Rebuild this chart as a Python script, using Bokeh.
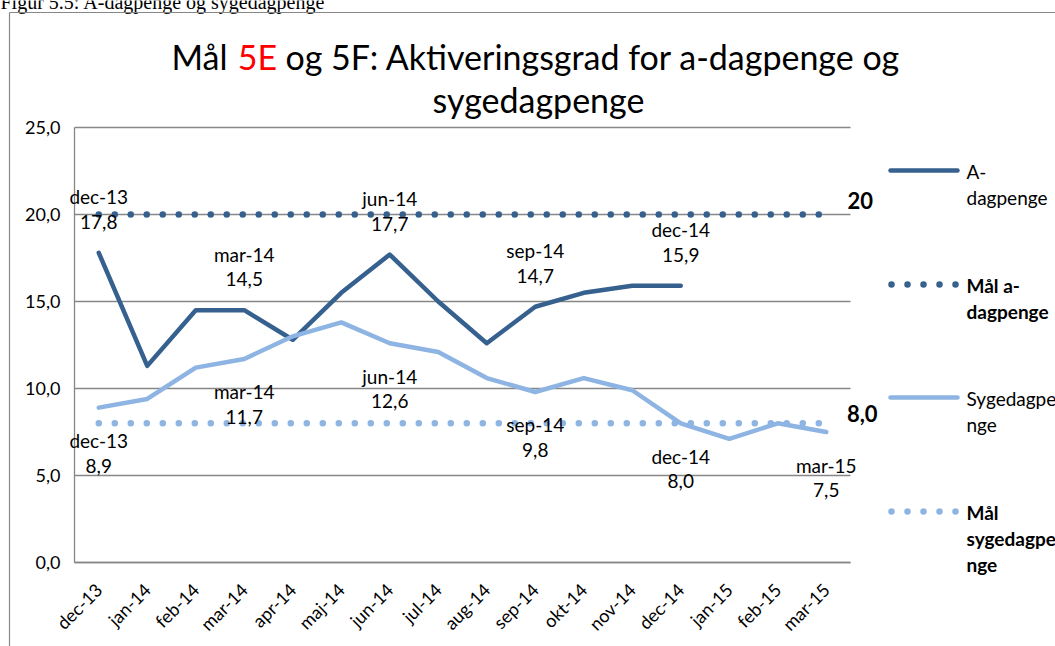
import math
from bokeh.plotting import figure
from bokeh.models import (ColumnDataSource, Range1d, LabelSet, Label, Arrow, FixedTicker, Grid)
from bokeh.core.properties import value
from bokeh.embed import file_html
from bokeh.resources import INLINE

# ---------------- data ----------------
months = ["dec-13", "jan-14", "feb-14", "mar-14", "apr-14", "maj-14", "jun-14", "jul-14",
          "aug-14", "sep-14", "okt-14", "nov-14", "dec-14", "jan-15", "feb-15", "mar-15"]
a_dagpenge = [17.8, 11.3, 14.5, 14.5, 12.8, 15.5, 17.7, 15.0, 12.6, 14.7, 15.5, 15.9, 15.9]
sygedagpenge = [8.9, 9.4, 11.2, 11.7, 13.0, 13.8, 12.6, 12.1, 10.6, 9.8, 10.6, 9.9, 8.0, 7.1, 8.0, 7.5]
maal_a = [20, 20, 20, 20, 20, 20, 20, 20, 20, 20, 20, 20, 20, 20, 20, 20]
maal_syge = [8.0, 8.0, 8.0, 8.0, 8.0, 8.0, 8.0, 8.0, 8.0, 8.0, 8.0, 8.0, 8.0, 8.0, 8.0, 8.0]
a_label_months = ["dec-13", "mar-14", "jun-14", "sep-14", "dec-14"]
syge_label_months = ["dec-13", "mar-14", "jun-14", "sep-14", "dec-14", "mar-15"]
y_ticks = [0, 5, 10, 15, 20, 25]
y_tick_labels = ["0,0", "5,0", "10,0", "15,0", "20,0", "25,0"]
maal_a_label = "20"
maal_syge_label = "8,0"
title_parts = ["Mål", "5E", "og 5F: Aktiveringsgrad for a-dagpenge og", "sygedagpenge"]
caption = "Figur 5.5: A-dagpenge og sygedagpenge"
legend_names = [["A-", "dagpenge"], ["Mål a-", "dagpenge"], ["Sygedagpe", "nge"],
                ["Mål", "sygedagpe", "nge"]]

# ---------------- style / geometry ----------------
DARK = "#36618F"
LIGHT = "#8DB4E2"
GRID = "#878787"
FONT = "Lato"
TXT = "black"
W, H = 1055, 646
FL, FR, FT, FB = 74, 850, 127, 562      # plot area in page px
N = len(months)
XSTEP = (FR - FL) / N
YSCALE = (FB - FT) / 25.0


def dx(px):
    return (px - FL) / XSTEP - 0.5


def dy(py):
    return (FB - py) / YSCALE


def fmt(v):
    return ("%.1f" % v).replace(".", ",")


xs = list(range(N))

p = figure(width=W, height=H, x_range=Range1d(dx(0), dx(W)), y_range=Range1d(dy(H), dy(0)),
           output_backend="svg", toolbar_location=None, min_border=0)
p.outline_line_color = None
p.background_fill_color = "white"
p.border_fill_color = "white"

# axes (drawn inside the canvas at fixed locations)
p.xgrid.visible = False
xa, ya = p.xaxis[0], p.yaxis[0]
xa.fixed_location = 0
ya.fixed_location = -0.5
xa.bounds = (-0.5, N - 0.5)
ya.bounds = (0, 25)
xa.ticker = FixedTicker(ticks=xs)
xa.major_label_overrides = {i: m for i, m in zip(xs, months)}
ya.ticker = FixedTicker(ticks=y_ticks)
ya.major_label_overrides = {t: l for t, l in zip(y_ticks, y_tick_labels)}
for ax in (xa, ya):
    ax.axis_line_color = GRID
    ax.axis_line_width = 1.3
    ax.major_tick_line_color = None
    ax.minor_tick_line_color = None
    ax.major_tick_out = 0
    ax.major_tick_in = 0
    ax.major_label_text_font = FONT
    ax.major_label_text_color = TXT
ya.major_label_text_font_size = "18px"
ya.major_label_standoff = 14
xa.major_label_text_font_size = "18px"
xa.major_label_orientation = math.pi / 4
xa.major_label_standoff = 24

yg = p.ygrid[0]
yg.ticker = FixedTicker(ticks=y_ticks)
yg.grid_line_color = GRID
yg.grid_line_width = 1.3
if "cross_bounds" in Grid.properties():
    yg.cross_bounds = (-0.5, N - 0.5)
else:
    yg.visible = False
    p.segment(x0=[-0.5] * len(y_ticks), x1=[N - 0.5] * len(y_ticks), y0=y_ticks, y1=y_ticks,
              line_color=GRID, line_width=1.3)

# series
p.line(xs[:len(a_dagpenge)], a_dagpenge, line_color=DARK, line_width=4.5,
       line_join="round", line_cap="round")
p.line(xs, maal_a, line_color=DARK, line_width=6.5, line_dash="0 16", line_cap="round")
p.line(xs, sygedagpenge, line_color=LIGHT, line_width=4.5,
       line_join="round", line_cap="round")
p.line(xs, maal_syge, line_color=LIGHT, line_width=6.5, line_dash="0 16", line_cap="round")

# data labels
src_a = ColumnDataSource(dict(
    x=[months.index(m) for m in a_label_months],
    y=[a_dagpenge[months.index(m)] for m in a_label_months],
    month=a_label_months,
    val=[fmt(a_dagpenge[months.index(m)]) for m in a_label_months]))
src_s = ColumnDataSource(dict(
    x=[months.index(m) for m in syge_label_months],
    y=[sygedagpenge[months.index(m)] for m in syge_label_months],
    month=syge_label_months,
    val=[fmt(sygedagpenge[months.index(m)]) for m in syge_label_months]))
lab_kw = dict(text_align="center", text_baseline="middle", text_font=value(FONT),
              text_font_size="19px", text_color=TXT)
p.add_layout(LabelSet(x="x", y="y", text="month", source=src_a, y_offset=56, **lab_kw))
p.add_layout(LabelSet(x="x", y="y", text="val", source=src_a, y_offset=31, **lab_kw))
p.add_layout(LabelSet(x="x", y="y", text="month", source=src_s, y_offset=-33, **lab_kw))
p.add_layout(LabelSet(x="x", y="y", text="val", source=src_s, y_offset=-58, **lab_kw))

# target labels (at the last point of each target series)
p.add_layout(Label(x=N - 1, y=maal_a[-1], x_offset=34, y_offset=14, text=maal_a_label,
                   text_font=FONT, text_font_size="22px", text_font_style="bold",
                   text_color=TXT, text_align="center", text_baseline="middle"))
p.add_layout(Label(x=N - 1, y=maal_syge[-1], x_offset=36, y_offset=10, text=maal_syge_label,
                   text_font=FONT, text_font_size="22px", text_font_style="bold",
                   text_color=TXT, text_align="center", text_baseline="middle"))

# title
TS = "34px"
p.add_layout(Label(x=dx(227), y=dy(56), text=title_parts[0], text_font=FONT,
                   text_font_size=TS, text_color=TXT, text_align="right",
                   text_baseline="middle"))
p.add_layout(Label(x=dx(257), y=dy(56), text=title_parts[1], text_font=FONT,
                   text_font_size=TS, text_color="#FF0000", text_align="center",
                   text_baseline="middle"))
p.add_layout(Label(x=dx(285), y=dy(56), text=title_parts[2], text_font=FONT,
                   text_font_size=TS, text_color=TXT, text_align="left",
                   text_baseline="middle"))
p.add_layout(Label(x=dx(538), y=dy(99), text=title_parts[3], text_font=FONT,
                   text_font_size=TS, text_color=TXT, text_align="center",
                   text_baseline="middle"))

# caption and chart border
p.add_layout(Label(x=dx(0), y=dy(1), text=caption, text_font="Liberation Serif",
                   text_font_size="20px", text_color=TXT, text_align="left",
                   text_baseline="middle"))
p.add_layout(Arrow(end=None, x_start=dx(9), y_start=dy(12), x_end=dx(9), y_end=dy(H + 10),
                   line_color=GRID, line_width=1.2))
p.add_layout(Arrow(end=None, x_start=dx(9), y_start=dy(12), x_end=dx(W + 10), y_end=dy(12),
                   line_color=GRID, line_width=1.2))

# legend
leg_y = [170, 284, 397, 511]
leg_col = [DARK, DARK, LIGHT, LIGHT]
leg_dash = ["solid", "0 16", "solid", "0 16"]
leg_bold = [False, True, False, True]
for i in range(4):
    if leg_dash[i] == "solid":
        p.add_layout(Arrow(end=None, x_start=dx(890), y_start=dy(leg_y[i]), x_end=dx(957),
                           y_end=dy(leg_y[i]), line_color=leg_col[i], line_width=4.5,
                           line_cap="round"))
    else:
        p.add_layout(Arrow(end=None, x_start=dx(891), y_start=dy(leg_y[i]), x_end=dx(960),
                           y_end=dy(leg_y[i]), line_color=leg_col[i], line_width=6.5,
                           line_dash="0 16", line_cap="round"))
    for j, t in enumerate(legend_names[i]):
        p.add_layout(Label(x=dx(966), y=dy(leg_y[i] + 1 + 26 * j), text=t, text_font=FONT,
                           text_font_size="19px", text_color=TXT,
                           text_font_style="bold" if leg_bold[i] else "normal",
                           text_align="left", text_baseline="middle"))

open("out.html", "w").write(file_html(p, INLINE))
